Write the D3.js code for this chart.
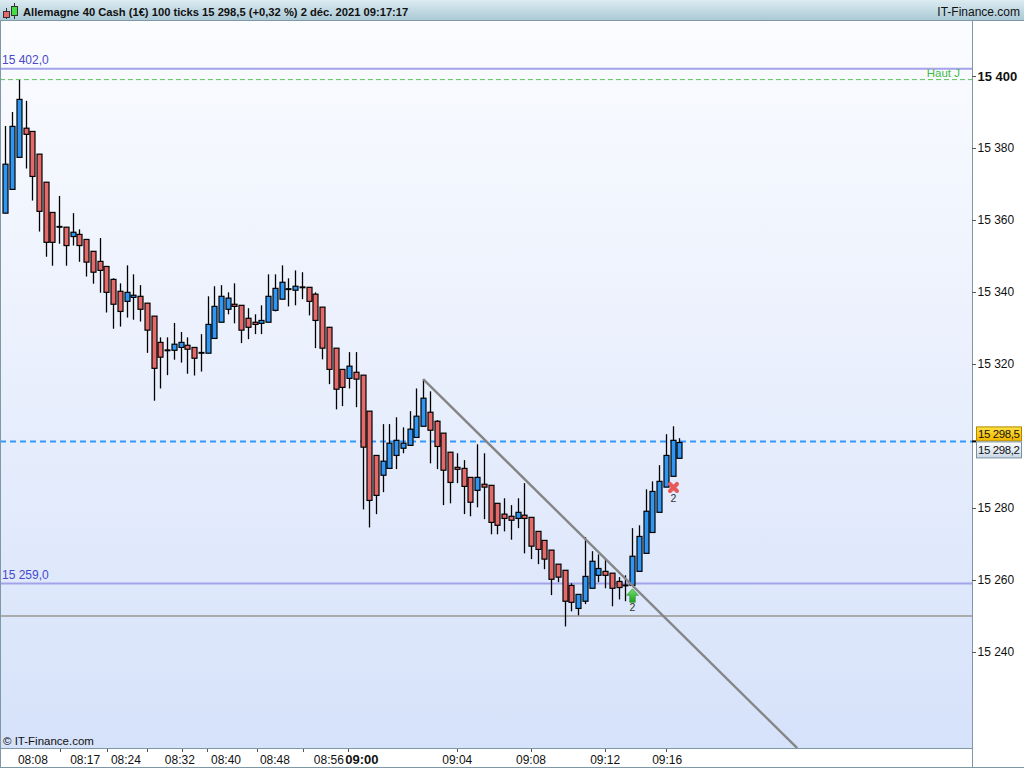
<!DOCTYPE html>
<html>
<head>
<meta charset="utf-8">
<script src="https://cdn.jsdelivr.net/npm/d3@7"></script>
<style>
  body { margin: 0; background: #fff; }
  svg { display: block; font-family: "Liberation Sans", Arial, sans-serif; }
</style>
</head>
<body>
<svg></svg>
<script>
// candle data, one value per 100-tick bar
const opens = [15361.9, 15368.5, 15377.4, 15385.5, 15384.6, 15378.3, 15370.5, 15362.1, 15358.1, 15358.0,
  15355.4, 15356.0, 15354.6, 15351.3, 15348.5, 15347.1, 15343.5, 15340.2, 15337.4, 15338.5,
  15338.8, 15336.9, 15333.3, 15326.0, 15323.8, 15323.8, 15324.6, 15325.2, 15324.6, 15323.1,
  15323.0, 15327.1, 15331.6, 15335.2, 15336.6, 15336.3, 15332.7, 15331.6, 15331.3, 15331.6,
  15334.9, 15338.0, 15340.8, 15340.5, 15341.3, 15341.3, 15339.4, 15335.8, 15330.2, 15324.4,
  15318.5, 15316.0, 15317.7, 15316.9, 15306.9, 15294.6, 15289.1, 15291.0, 15294.6, 15296.6,
  15297.4, 15299.6, 15302.7, 15306.6, 15304.1, 15300.8, 15295.5, 15291.3, 15291.0, 15288.5,
  15284.9, 15286.6, 15286.3, 15281.3, 15278.3, 15277.7, 15277.1, 15278.0, 15277.4, 15273.5,
  15271.0, 15268.3, 15264.4, 15262.7, 15258.5, 15252.1, 15254.1, 15257.7, 15261.3, 15262.4,
  15261.9, 15259.6, 15258.5, 15258.5, 15262.4, 15267.4, 15273.2, 15278.8, 15285.8, 15288.8,
  15293.8];
const highs = [15386.1, 15390.0, 15398.9, 15393.1, 15384.6, 15378.3, 15370.5, 15362.1, 15366.7, 15358.0,
  15361.9, 15357.4, 15354.6, 15351.3, 15355.0, 15347.1, 15343.8, 15342.4, 15347.4, 15344.9,
  15341.9, 15336.9, 15333.3, 15327.4, 15327.4, 15331.4, 15328.9, 15327.4, 15324.6, 15328.3,
  15338.8, 15341.6, 15341.9, 15339.9, 15342.4, 15336.3, 15335.5, 15333.8, 15336.3, 15344.9,
  15344.9, 15347.4, 15343.8, 15346.0, 15345.5, 15341.3, 15339.9, 15335.8, 15330.2, 15324.4,
  15318.5, 15323.3, 15323.3, 15316.9, 15306.9, 15294.6, 15303.3, 15303.3, 15305.2, 15302.4,
  15306.9, 15313.2, 15315.8, 15312.4, 15304.4, 15300.8, 15295.5, 15295.2, 15293.3, 15288.5,
  15297.7, 15295.2, 15286.3, 15281.3, 15282.7, 15280.8, 15282.7, 15286.9, 15277.4, 15273.5,
  15271.0, 15268.3, 15264.4, 15262.7, 15259.1, 15256.0, 15271.9, 15268.0, 15267.1, 15265.8,
  15261.9, 15260.8, 15261.3, 15274.4, 15275.2, 15285.2, 15287.4, 15291.9, 15300.5, 15302.7,
  15299.4];
const lows = [15361.9, 15368.5, 15377.4, 15374.3, 15365.4, 15356.8, 15349.8, 15347.3, 15353.4, 15347.3,
  15352.9, 15348.4, 15344.3, 15342.3, 15339.8, 15334.3, 15329.8, 15330.4, 15332.9, 15332.3,
  15331.8, 15323.1, 15309.8, 15313.2, 15316.9, 15321.2, 15320.4, 15317.3, 15316.8, 15317.9,
  15323.0, 15327.1, 15331.6, 15333.8, 15331.3, 15325.8, 15326.9, 15328.3, 15328.3, 15331.6,
  15334.6, 15338.0, 15336.0, 15336.3, 15338.0, 15333.5, 15324.4, 15321.3, 15314.4, 15307.4,
  15308.3, 15313.2, 15308.0, 15279.6, 15274.6, 15278.3, 15284.4, 15291.0, 15290.8, 15295.2,
  15297.4, 15299.6, 15302.7, 15292.4, 15290.8, 15280.8, 15281.3, 15286.9, 15278.3, 15277.7,
  15280.2, 15276.9, 15272.7, 15272.7, 15273.5, 15271.2, 15274.4, 15267.4, 15265.8, 15264.4,
  15263.0, 15255.8, 15259.4, 15247.1, 15251.3, 15250.2, 15253.3, 15257.7, 15259.4, 15257.7,
  15252.7, 15254.6, 15254.1, 15258.5, 15262.4, 15267.4, 15273.2, 15278.8, 15285.8, 15288.8,
  15293.8];
const closes = [15375.5, 15386.0, 15393.5, 15383.8, 15372.1, 15362.4, 15353.8, 15353.8, 15358.1, 15352.9,
  15356.6, 15352.9, 15348.3, 15345.5, 15346.0, 15339.9, 15336.6, 15334.6, 15339.9, 15339.1,
  15335.2, 15329.4, 15318.8, 15321.9, 15323.8, 15325.5, 15326.0, 15324.1, 15321.6, 15323.1,
  15331.0, 15336.0, 15338.8, 15338.3, 15336.0, 15329.4, 15330.2, 15331.0, 15332.1, 15338.8,
  15341.0, 15342.7, 15340.8, 15341.6, 15341.3, 15337.4, 15332.1, 15324.4, 15318.5, 15313.0,
  15313.5, 15319.4, 15315.8, 15296.9, 15282.1, 15283.5, 15293.0, 15298.0, 15298.8, 15298.0,
  15301.9, 15305.5, 15310.5, 15301.6, 15297.1, 15290.5, 15287.1, 15290.8, 15286.0, 15281.6,
  15288.5, 15285.8, 15276.0, 15275.2, 15277.1, 15276.6, 15278.8, 15277.1, 15269.4, 15268.5,
  15265.8, 15260.2, 15260.8, 15254.1, 15253.8, 15256.0, 15261.0, 15265.2, 15263.2, 15261.3,
  15257.7, 15257.9, 15258.5, 15266.6, 15272.1, 15279.1, 15284.6, 15287.4, 15294.6, 15298.8,
  15298.2];

// time axis (bar index -> label), irregular because bars are tick based
const timeLabels = ["08:08", "08:17", "08:24", "08:32", "08:40", "08:48", "08:56", "09:00", "09:04", "09:08", "09:12", "09:16"];
const timeIdx = [4.1, 11.85, 17.9, 25.9, 32.75, 40, 48, 52.9, 67.06, 78, 89, 98.2];
const timeTicks = [8.1, 15.1, 21.0, 26.2, 29.9, 37.3, 44.2, 50.9, 67.0, 78, 89, 98];

const priceTicks = [15400, 15380, 15360, 15340, 15320, 15280, 15260, 15240];

// horizontal levels
const levelHigh = 15402.0;
const levelLow = 15259.0;
const hautJ = 15399.0;
const lastPrice = 15298.5;
const bidPrice = 15298.2;
const grayLevel = 15250.0;
// trend line [bar index, price]
const trendFrom = [62, 15315.8];
const trendTo = [117.5, 15213.3];
// signals [bar index, price]
const buySignal = [93, 15255.6];
const sellSignal = [99, 15285.7];

const w = 1024;
const h = 768;
const plot = { left: 0, top: 21, right: 972, bottom: 748 };

const svg = d3.select("svg").attr("width", w).attr("height", h);
const defs = svg.append("defs");

const fmt = v => d3.format(",.0f")(v).replace(",", " ");
const fmt1 = v => d3.format(",.1f")(v).replace(",", " ").replace(".", ",");

function grad(id, stops) {
  const g = defs.append("linearGradient").attr("id", id)
    .attr("x1", 0).attr("y1", 0).attr("x2", 0).attr("y2", 1);
  stops.forEach(s => g.append("stop").attr("offset", s[0]).attr("stop-color", s[1]));
}
grad("bg", [[0, "#fbfcff"], [1, "#d6e2fa"]]);
grad("head", [[0, "#dcebf1"], [1, "#a8c8d5"]]);
grad("yel", [[0, "#ffe040"], [1, "#f2b600"]]);
grad("gry", [[0, "#ffffff"], [1, "#c9d8e6"]]);
grad("grn", [[0, "#6fe06f"], [1, "#1f9f1f"]]);

const xScale = d3.scaleLinear().domain([0, 100]).range([5.3, 679.3]);
const yScale = d3.scaleLinear().domain([15400, 15240]).range([76, 652]);

// header bar
svg.append("rect").attr("x", 0).attr("y", 0).attr("width", w).attr("height", plot.top)
  .attr("fill", "url(#head)");
svg.append("line").attr("x1", 0).attr("x2", w).attr("y1", plot.top - 0.5).attr("y2", plot.top - 0.5)
  .attr("stroke", "#7f98a6");
// little candle icon
svg.append("line").attr("x1", 6.5).attr("x2", 6.5).attr("y1", 8).attr("y2", 19).attr("stroke", "#333");
svg.append("rect").attr("x", 3.5).attr("y", 11.5).attr("width", 6).attr("height", 6)
  .attr("fill", "#e36b6b").attr("stroke", "#333");
svg.append("line").attr("x1", 14.5).attr("x2", 14.5).attr("y1", 3).attr("y2", 19).attr("stroke", "#333");
svg.append("rect").attr("x", 11.5).attr("y", 6.5).attr("width", 6).attr("height", 9)
  .attr("fill", "#44dd44").attr("stroke", "#333");
svg.append("text").attr("x", 23).attr("y", 15.5)
  .attr("font-size", 11.2).attr("font-weight", "bold").attr("fill", "#111")
  .text("Allemagne 40 Cash (1€) 100 ticks 15 298,5 (+0,32 %) 2 déc. 2021 09:17:17");
svg.append("text").attr("x", 1020).attr("y", 15.5).attr("text-anchor", "end")
  .attr("font-size", 12).attr("fill", "#111")
  .text("IT-Finance.com");

// plot background
svg.append("rect").attr("x", plot.left).attr("y", plot.top)
  .attr("width", plot.right - plot.left).attr("height", plot.bottom - plot.top)
  .attr("fill", "url(#bg)");

const chart = svg.append("g");

// horizontal levels
function hline(price, color, width, dash) {
  chart.append("line").attr("x1", 0).attr("x2", plot.right)
    .attr("y1", yScale(price)).attr("y2", yScale(price))
    .attr("stroke", color).attr("stroke-width", width)
    .attr("stroke-dasharray", dash || null);
}
hline(levelHigh, "#a3a3ea", 2);
hline(hautJ, "#5cc35c", 1, "5,3");
hline(levelLow, "#a3a3ea", 2);
hline(grayLevel, "#ababab", 2);
hline(lastPrice, "#3399ff", 2, "6,4");

chart.append("text").attr("x", 2).attr("y", yScale(levelHigh) - 4.5)
  .attr("font-size", 12).attr("fill", "#4848cc").text(fmt1(levelHigh));
chart.append("text").attr("x", 2).attr("y", yScale(levelLow) - 4.5)
  .attr("font-size", 12).attr("fill", "#4848cc").text(fmt1(levelLow));
chart.append("text").attr("x", 960).attr("y", yScale(hautJ) - 3).attr("text-anchor", "end")
  .attr("font-size", 11.5).attr("fill", "#44bb44").text("Haut J");

// candles
const idx = d3.range(opens.length);
const bw = 5;
const candles = chart.selectAll("g.c").data(idx).enter().append("g").attr("class", "c");
candles.append("line")
  .attr("x1", i => Math.round(xScale(i)) + 0.5).attr("x2", i => Math.round(xScale(i)) + 0.5)
  .attr("y1", i => yScale(highs[i])).attr("y2", i => yScale(lows[i]))
  .attr("stroke", "#000").attr("stroke-width", 1.3);
candles.filter(i => opens[i] !== closes[i]).append("rect")
  .attr("x", i => Math.round(xScale(i)) - 2)
  .attr("y", i => yScale(Math.max(opens[i], closes[i])))
  .attr("width", bw)
  .attr("height", i => Math.max(2, yScale(Math.min(opens[i], closes[i])) - yScale(Math.max(opens[i], closes[i]))))
  .attr("fill", i => closes[i] > opens[i] ? "#2f96f3" : "#e46a6a")
  .attr("stroke", "#000").attr("stroke-width", 1.2);
candles.filter(i => opens[i] === closes[i]).append("line")
  .attr("x1", i => Math.round(xScale(i)) - 2.5).attr("x2", i => Math.round(xScale(i)) + 3.5)
  .attr("y1", i => yScale(opens[i])).attr("y2", i => yScale(opens[i]))
  .attr("stroke", "#000").attr("stroke-width", 2);

// trend line, clipped to the plot
defs.append("clipPath").attr("id", "clip").append("rect")
  .attr("x", plot.left).attr("y", plot.top).attr("width", plot.right).attr("height", plot.bottom - plot.top);
chart.append("line").attr("clip-path", "url(#clip)")
  .attr("x1", xScale(trendFrom[0])).attr("y1", yScale(trendFrom[1]))
  .attr("x2", xScale(trendTo[0])).attr("y2", yScale(trendTo[1]))
  .attr("stroke", "#858585").attr("stroke-width", 2.4);

// buy signal: green arrow
const bx = Math.round(xScale(buySignal[0])) + 0.5;
const by = yScale(buySignal[1]);
chart.append("path")
  .attr("d", `M${bx},${by - 7} L${bx + 6},${by - 0.5} L${bx + 2.8},${by - 0.5} L${bx + 2.8},${by + 6.5} L${bx - 2.8},${by + 6.5} L${bx - 2.8},${by - 0.5} L${bx - 6},${by - 0.5} Z`)
  .attr("fill", "url(#grn)").attr("stroke", "#2a8a2a").attr("stroke-width", 0.6);
chart.append("text").attr("x", bx).attr("y", by + 15.5).attr("text-anchor", "middle")
  .attr("font-size", 10.5).attr("fill", "#333").text("2");

// sell signal: red cross
const sx = Math.round(xScale(sellSignal[0])) + 0.5;
const sy = yScale(sellSignal[1]);
chart.append("path")
  .attr("d", `M${sx - 3.5},${sy - 3.5} L${sx + 3.5},${sy + 3.5} M${sx + 3.5},${sy - 3.5} L${sx - 3.5},${sy + 3.5}`)
  .attr("stroke", "#e85a5a").attr("stroke-width", 4).attr("stroke-linecap", "round");
chart.append("text").attr("x", sx).attr("y", sy + 15).attr("text-anchor", "middle")
  .attr("font-size", 10.5).attr("fill", "#333").text("2");

chart.append("text").attr("x", 3).attr("y", plot.bottom - 3)
  .attr("font-size", 11.5).attr("fill", "#111").text("© IT-Finance.com");

// plot borders
svg.append("line").attr("x1", 0.5).attr("x2", 0.5).attr("y1", plot.top).attr("y2", h)
  .attr("stroke", "#7f98a6");
svg.append("line").attr("x1", plot.right + 0.5).attr("x2", plot.right + 0.5).attr("y1", plot.top).attr("y2", h - 1)
  .attr("stroke", "#7f98a6");
svg.append("line").attr("x1", 0).attr("x2", plot.right).attr("y1", plot.bottom + 0.5).attr("y2", plot.bottom + 0.5)
  .attr("stroke", "#7f98a6");
svg.append("line").attr("x1", 0).attr("x2", w).attr("y1", h - 0.5).attr("y2", h - 0.5)
  .attr("stroke", "#7f98a6");

// right price axis
const yAxis = svg.append("g").attr("transform", `translate(${plot.right},0)`)
  .call(d3.axisRight(yScale).tickValues(priceTicks).tickSize(4).tickFormat(fmt));
yAxis.select(".domain").remove();
yAxis.selectAll("line").attr("stroke", "#555");
yAxis.selectAll("text").attr("x", 5.5).attr("fill", "#111")
  .attr("font-family", "\"Liberation Sans\", Arial, sans-serif").attr("font-size", 12);
yAxis.selectAll("text").filter(d => d === 15400).attr("font-weight", "bold").attr("font-size", 13);

// last price tick and boxes
svg.append("line").attr("x1", plot.right).attr("x2", plot.right + 4)
  .attr("y1", yScale(lastPrice)).attr("y2", yScale(lastPrice)).attr("stroke", "#000").attr("stroke-width", 2);
svg.append("rect").attr("x", 976.5).attr("y", yScale(lastPrice) - 14.5).attr("width", 45).attr("height", 14)
  .attr("fill", "url(#yel)").attr("stroke", "#b08a00");
svg.append("text").attr("x", 978).attr("y", yScale(lastPrice) - 3.5)
  .attr("font-size", 11.5).attr("textLength", 42).attr("fill", "#111").text(fmt1(lastPrice));
svg.append("rect").attr("x", 976.5).attr("y", yScale(lastPrice) + 0.5).attr("width", 45).attr("height", 16)
  .attr("fill", "url(#gry)").attr("stroke", "#7890a0");
svg.append("text").attr("x", 978).attr("y", yScale(lastPrice) + 13)
  .attr("font-size", 11.5).attr("textLength", 42).attr("fill", "#111").text(fmt1(bidPrice));

// bottom time axis
const xAxis = svg.append("g").attr("transform", `translate(0,${plot.bottom + 1})`);
xAxis.selectAll("line").data(timeTicks).enter().append("line")
  .attr("x1", d => Math.round(xScale(d)) + 0.5).attr("x2", d => Math.round(xScale(d)) + 0.5)
  .attr("y1", 0).attr("y2", 3).attr("stroke", "#555");
xAxis.selectAll("text").data(timeLabels).enter().append("text")
  .attr("x", (d, i) => xScale(timeIdx[i])).attr("y", 15)
  .attr("text-anchor", "middle")
  .attr("font-size", d => d === "09:00" ? 13 : 12)
  .attr("font-weight", d => d === "09:00" ? "bold" : "normal")
  .attr("fill", "#111").text(d => d);
</script>
</body>
</html>
